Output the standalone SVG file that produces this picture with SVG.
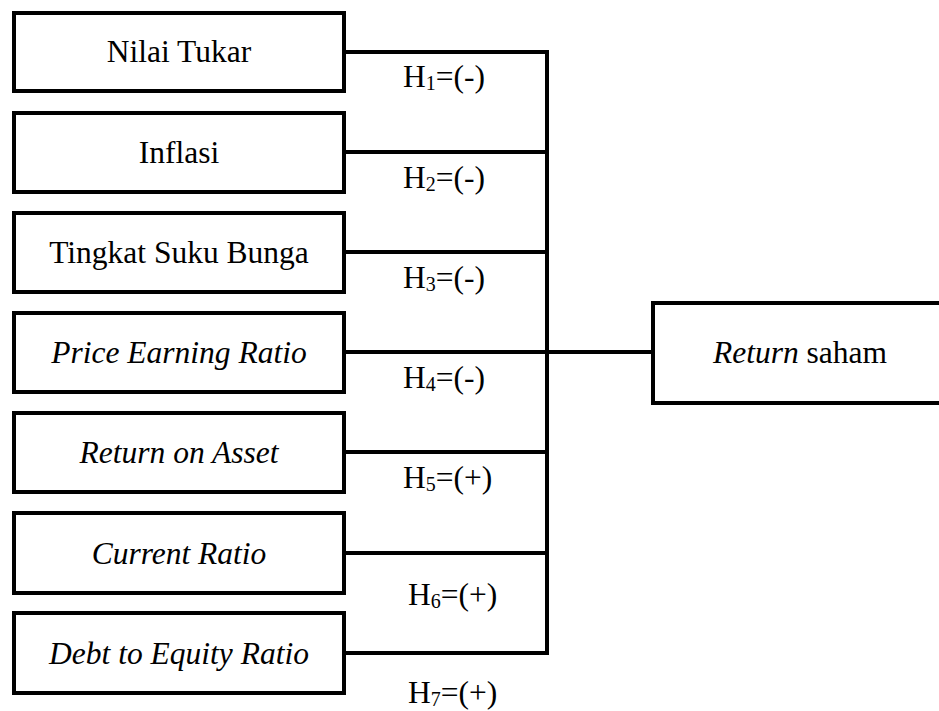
<svg xmlns="http://www.w3.org/2000/svg" width="939" height="711" viewBox="0 0 939 711">
<style>
.box{fill:#fff;stroke:#000;stroke-width:4}
.t{font-family:"Liberation Serif","Times New Roman",serif;font-size:31.5px;fill:#000;text-anchor:middle}
.i{font-style:italic}
.h{font-family:"Liberation Serif","Times New Roman",serif;font-size:31.5px;fill:#000}
.s{font-size:20px}
.c{fill:none;stroke:#000;stroke-width:4}
</style>
<rect width="939" height="711" fill="#fff"/>
<g id="connectors">
<path class="c" d="M344 52H547M344 152H547M344 252H547M344 352H547M344 452H547M344 553H547M344 653H547M547 50V655M547 352H653"/>
</g>
<g id="n1"><rect class="box" x="14" y="13" width="330" height="78"/><text class="t" x="179" y="62">Nilai Tukar</text></g>
<g id="n2"><rect class="box" x="14" y="113" width="330" height="79"/><text class="t" x="179" y="163">Inflasi</text></g>
<g id="n3"><rect class="box" x="14" y="213" width="330" height="79"/><text class="t" x="179" y="263">Tingkat Suku Bunga</text></g>
<g id="n4"><rect class="box" x="14" y="313" width="330" height="79"/><text class="t i" x="179" y="363">Price Earning Ratio</text></g>
<g id="n5"><rect class="box" x="14" y="413" width="330" height="79"/><text class="t i" x="179" y="463">Return on Asset</text></g>
<g id="n6"><rect class="box" x="14" y="513" width="330" height="80"/><text class="t i" x="179" y="564">Current Ratio</text></g>
<g id="n7"><rect class="box" x="14" y="613" width="330" height="80"/><text class="t i" x="179" y="664">Debt to Equity Ratio</text></g>
<g id="dv"><rect class="box" x="653" y="303" width="300" height="100"/><text class="t" x="800" y="363"><tspan class="i">Return</tspan> saham</text></g>
<g id="labels">
<text class="h" x="403" y="87">H<tspan class="s" dy="3">1</tspan><tspan dy="-3">=(-)</tspan></text>
<text class="h" x="403" y="188">H<tspan class="s" dy="3">2</tspan><tspan dy="-3">=(-)</tspan></text>
<text class="h" x="403" y="288">H<tspan class="s" dy="3">3</tspan><tspan dy="-3">=(-)</tspan></text>
<text class="h" x="403" y="388">H<tspan class="s" dy="3">4</tspan><tspan dy="-3">=(-)</tspan></text>
<text class="h" x="403" y="488">H<tspan class="s" dy="3">5</tspan><tspan dy="-3">=(+)</tspan></text>
<text class="h" x="408" y="605">H<tspan class="s" dy="3">6</tspan><tspan dy="-3">=(+)</tspan></text>
<text class="h" x="408" y="703">H<tspan class="s" dy="3">7</tspan><tspan dy="-3">=(+)</tspan></text>
</g>
</svg>
